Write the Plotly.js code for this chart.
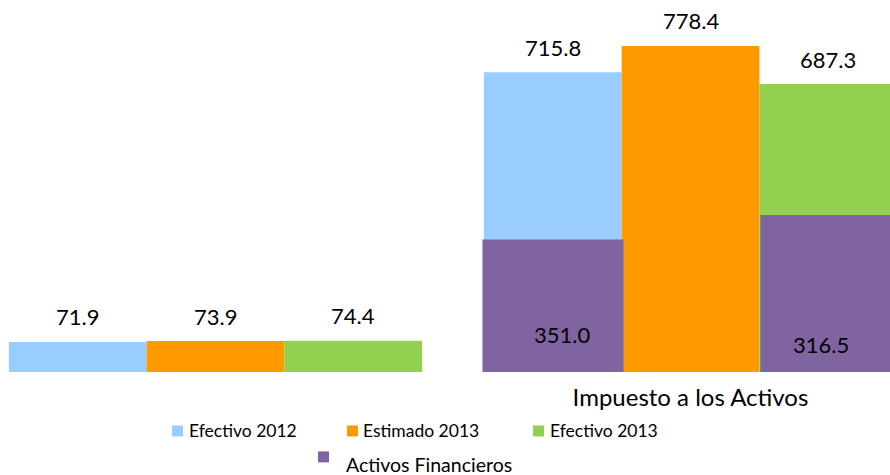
<!DOCTYPE html>
<html><head><meta charset="utf-8">
<script src="https://cdn.plot.ly/plotly-3.0.1.min.js"></script>
<style>html,body{margin:0;padding:0;background:#fff}#chart{width:890px;height:475px}</style>
</head><body><div id="chart"></div>
<script>
// ---- data ----
const categories = ['Grupo A', 'Impuesto a los Activos'];
const categoryLabels = ['', 'Impuesto a los Activos'];
const seriesNames = ['Efectivo 2012', 'Estimado 2013', 'Efectivo 2013', 'Activos Financieros'];
const efectivo2012 = [71.9, 715.8];
const estimado2013 = [73.9, 778.4];
const efectivo2013 = [74.4, 687.3];
const activosCategories = ['Impuesto a los Activos', 'Impuesto a los Activos'];
const activosFinancieros = [316, 375];
const activosLabels = ['351.0', '316.5'];
const colors = ['#99CCFF', '#FF9900', '#92D050', '#8064A2'];

// ---- layout constants ----
const W = 890, H = 475, mB = 102.5;
const plotH = H - mB;
const xr = [-0.4537, 1.42], yr = [0, 888];
const barW = 0.29;
const offs = [-0.435, -0.145, 0.145];
const purpleOffs = [-0.438, 0.147], purpleW = [0.297, 0.29];
const purpleLabelShift = [[9, 38], [-8, 28]];
const FONT = 'Lato, "Open Sans", sans-serif';

const mainSeries = [efectivo2012, estimado2013, efectivo2013];
const traces = mainSeries.map((vals, i) => ({
  type: 'bar', x: categories, y: vals, name: seriesNames[i],
  marker: {color: colors[i], line: {width: 0}},
  offset: offs[i], width: barW, showlegend: false, hoverinfo: 'skip'
}));
traces.push({
  type: 'bar', x: activosCategories, y: activosFinancieros, name: seriesNames[3],
  marker: {color: colors[3], line: {width: 0}},
  offset: purpleOffs, width: purpleW, showlegend: false, hoverinfo: 'skip'
});

const annotations = [];
mainSeries.forEach((vals, i) => {
  vals.forEach((v, c) => {
    annotations.push({
      xref: 'x', yref: 'y', x: c + offs[i] + barW / 2, y: v, yshift: 25,
      text: v.toFixed(1), showarrow: false, xanchor: 'center', yanchor: 'middle',
      font: {family: FONT, size: 22, color: '#000'}
    });
  });
});
activosFinancieros.forEach((v, k) => {
  const c = categories.indexOf(activosCategories[k]);
  annotations.push({
    xref: 'x', yref: 'y', x: c + purpleOffs[k] + purpleW[k] / 2, y: 0,
    xshift: purpleLabelShift[k][0], yshift: purpleLabelShift[k][1],
    text: activosLabels[k], showarrow: false, xanchor: 'center', yanchor: 'middle',
    font: {family: FONT, size: 22, color: '#000'}
  });
});

// ---- manual legend ----
const px = v => v / W;
const py = v => (plotH - v) / plotH;
const legendItems = [
  {sq: [172, 426], tx: [187, 431], fs: 17.5},
  {sq: [347, 426], tx: [361, 431], fs: 17.5},
  {sq: [533, 426], tx: [548, 431], fs: 17.5},
  {sq: [318, 452], tx: [344, 465], fs: 19.5}
];
const shapes = [];
legendItems.forEach((it, i) => {
  shapes.push({type: 'rect', xref: 'paper', yref: 'paper',
    x0: px(it.sq[0]), x1: px(it.sq[0] + 11), y0: py(it.sq[1]), y1: py(it.sq[1] + 11),
    fillcolor: colors[i], line: {width: 0}});
  annotations.push({xref: 'paper', yref: 'paper', x: px(it.tx[0]), y: py(it.tx[1]),
    xanchor: 'left', yanchor: 'middle', showarrow: false, text: seriesNames[i],
    font: {family: FONT, size: it.fs, color: '#000'}});
});

const layout = {
  width: W, height: H,
  margin: {l: 0, r: 0, t: 0, b: mB, pad: 0},
  paper_bgcolor: '#fff', plot_bgcolor: '#fff',
  barmode: 'overlay', showlegend: false,
  xaxis: {type: 'category', range: xr, showgrid: false, zeroline: false, showline: false,
    tickvals: categories, ticktext: categoryLabels, ticks: '', ticklabelstandoff: 9,
    tickfont: {family: FONT, size: 24, color: '#000'}, fixedrange: true},
  yaxis: {range: yr, visible: false, showgrid: false, zeroline: false, fixedrange: true},
  annotations: annotations, shapes: shapes,
  font: {family: FONT}
};
Plotly.newPlot('chart', traces, layout, {displayModeBar: false, staticPlot: true});
</script></body></html>
